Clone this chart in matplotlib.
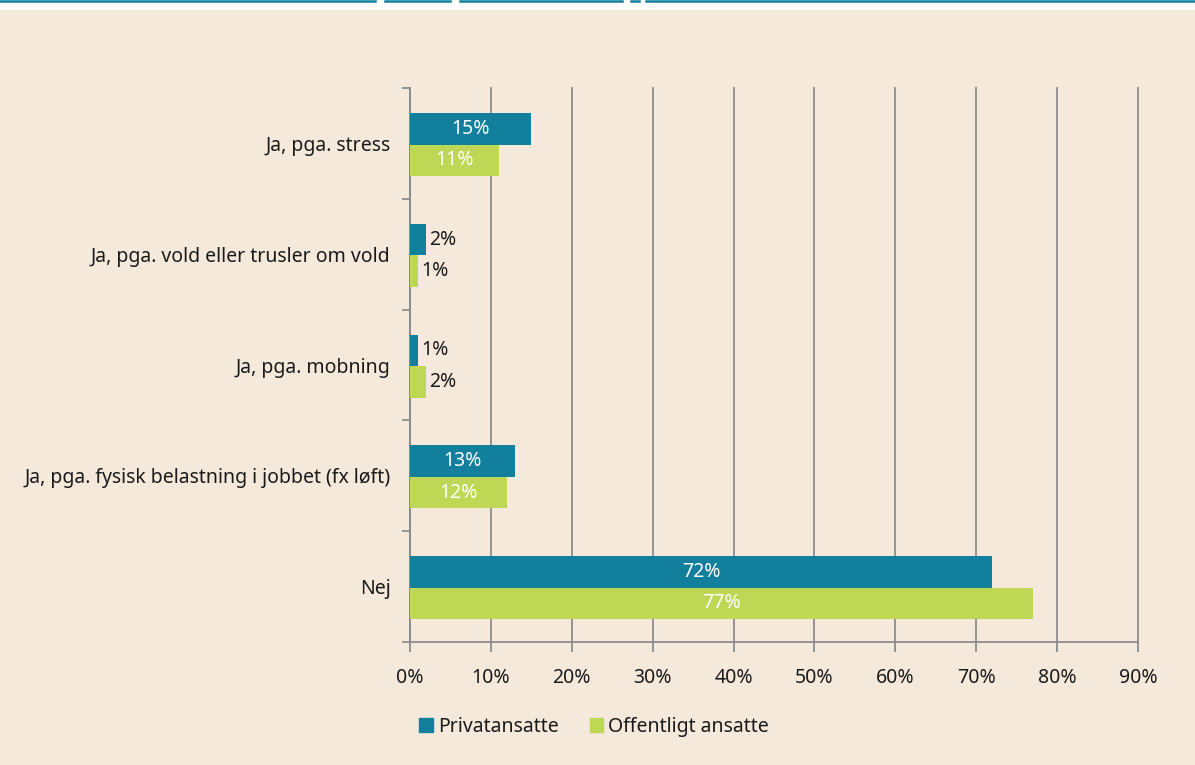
import matplotlib
matplotlib.use("Agg")
import matplotlib.pyplot as plt
from matplotlib.patches import Rectangle
from matplotlib.lines import Line2D
import numpy as np

categories = ["Ja, pga. stress", "Ja, pga. vold eller trusler om vold", "Ja, pga. mobning",
              "Ja, pga. fysisk belastning i jobbet (fx løft)", "Nej"]
privat = [15, 2, 1, 13, 72]
offentlig = [11, 1, 2, 12, 77]
series_names = ["Privatansatte", "Offentligt ansatte"]
xticks = [0, 10, 20, 30, 40, 50, 60, 70, 80, 90]

teal = "#127F9C"
green = "#BED856"
bg = "#F5E9DC"
grid = "#8C8C8C"
txt = "#1A1A1A"
fs = 14

plt.rcParams['font.family'] = ['Noto Sans', 'DejaVu Sans']

W, H = 1195, 765
fig = plt.figure(figsize=(W/100, H/100), dpi=100)
fig.patch.set_facecolor("white")
# beige panel
fig.patches.append(Rectangle((0, 0), 1, 1 - 10/H, transform=fig.transFigure,
                             facecolor=bg, edgecolor="none", zorder=-10))
# teal top line with gaps
segs = [(0, 375), (385, 450), (460, 622), (631, 639), (646, 1195)]
for a, b in segs:
    fig.lines.append(Line2D([a/W, b/W], [1 - 1/H, 1 - 1/H], transform=fig.transFigure,
                            color=teal, lw=1.8))

ax = fig.add_axes([410/W, 1 - 642/H, (1138-410)/W, (642-88)/H])
ax.set_facecolor("none")

n = len(categories)
y = np.arange(n)
h = 0.285
b1 = ax.barh(y - h/2 + 0.01, privat, height=h, color=teal, zorder=3)
b2 = ax.barh(y + h/2 + 0.01, offentlig, height=h, color=green, zorder=3)

for bars, vals in ((b1, privat), (b2, offentlig)):
    for rect, v in zip(bars, vals):
        cy = rect.get_y() + rect.get_height()/2
        if v >= 5:
            ax.text(v/2, cy, f"{v}%", ha="center", va="center", color="white",
                    fontsize=fs, zorder=4)
        else:
            ax.text(v + 0.35, cy, f"{v}%", ha="left", va="center", color=txt,
                    fontsize=fs, zorder=4)

ax.set_xlim(0, 90)
ax.set_ylim(n - 0.5, -0.5)
ax.set_xticks(xticks)
ax.set_xticklabels([f"{t}%" for t in xticks], fontsize=fs, color=txt)
ax.xaxis.grid(True, color=grid, lw=1.3, zorder=0)
for gl in ax.get_xgridlines():
    gl.set_clip_on(False)
ax.set_yticks(np.arange(n + 1) - 0.5)
ax.set_yticklabels([])
ax.set_yticks(y, minor=True)
ax.set_yticklabels(categories, minor=True, fontsize=fs, color=txt)
ax.tick_params(axis="y", which="major", length=6, color=grid, width=1.3)
ax.tick_params(axis="y", which="minor", length=0, pad=14)
ax.tick_params(axis="x", length=7, color=grid, width=1.3, pad=12)
for s in ("top", "right"):
    ax.spines[s].set_visible(False)
for s in ("left", "bottom"):
    ax.spines[s].set_color(grid)
    ax.spines[s].set_linewidth(1.3)

leg = fig.legend(handles=[Rectangle((0, 0), 1, 1, color=teal), Rectangle((0, 0), 1, 1, color=green)],
                 labels=series_names, loc="center", bbox_to_anchor=(594/W, 1 - 727/H),
                 ncol=2, frameon=False, fontsize=fs, handlelength=0.7, handleheight=0.7,
                 handletextpad=0.25, columnspacing=1.6)
for t in leg.get_texts():
    t.set_color(txt)

fig.savefig("out.png", dpi=100, facecolor=fig.get_facecolor())
